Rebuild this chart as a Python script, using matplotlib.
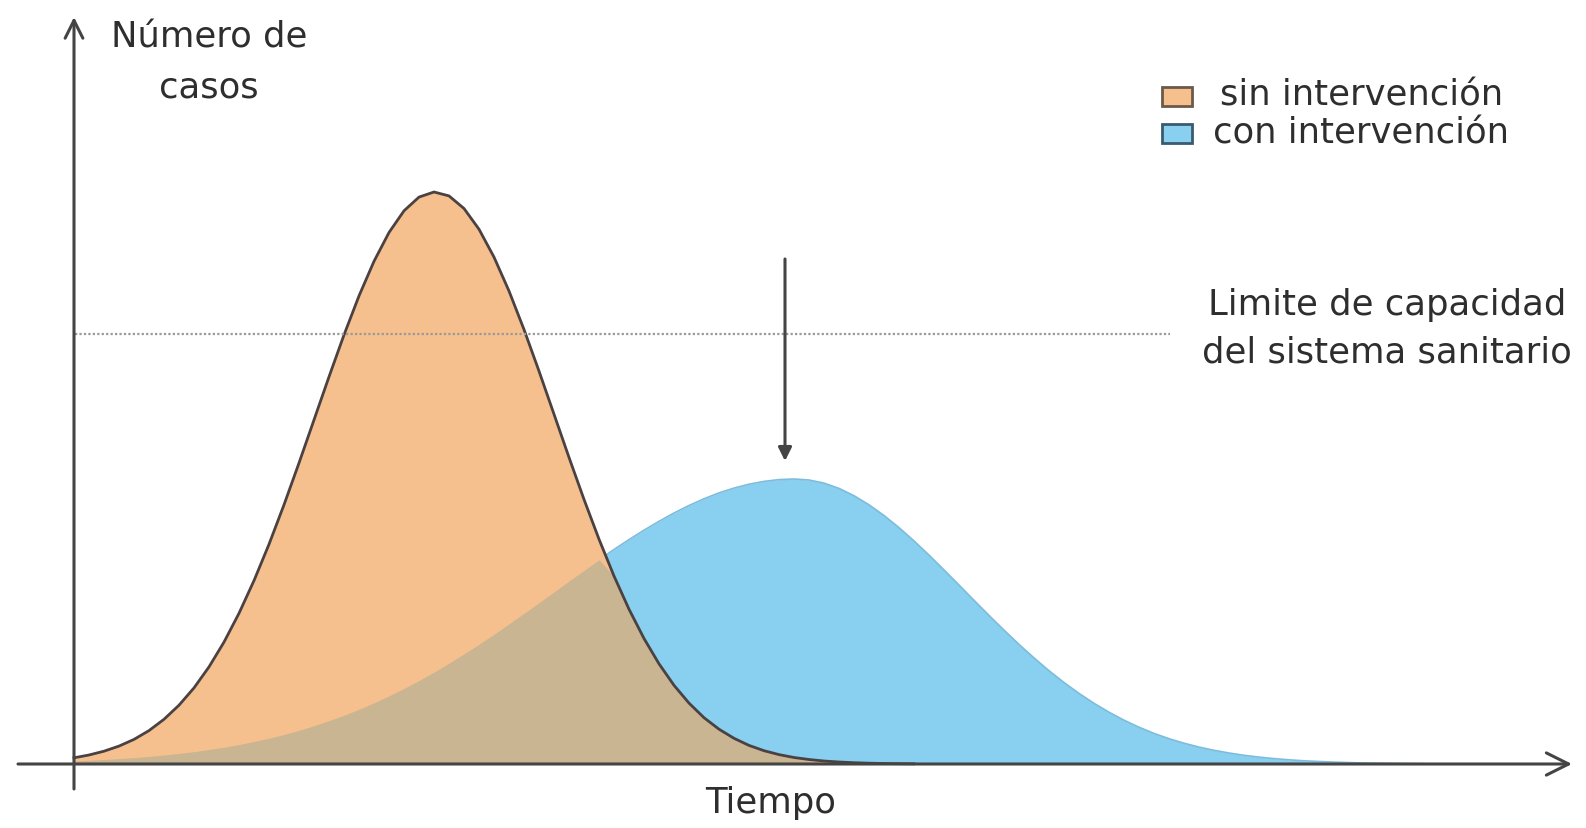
# -*- coding: utf-8 -*-
import matplotlib
matplotlib.use('Agg')
import matplotlib.pyplot as plt
from matplotlib.patches import Rectangle
import numpy as np

plt.rcParams['font.family'] = ['DejaVu Sans']

# tiempo (unidades arbitrarias) y numero de casos
tiempo = np.arange(0, 136, 1.5)
sin_interv = np.array([0.62, 0.90, 1.28, 1.79, 2.46, 3.34, 4.47, 5.88, 7.61, 9.71,
                       12.19, 15.07, 18.34, 21.97, 25.92, 30.10, 34.41, 38.72, 42.91, 46.81,
                       50.27, 53.15, 55.32, 56.69, 57.20, 56.81, 55.55, 53.48, 50.69, 47.30,
                       43.45, 39.29, 34.98, 30.66, 26.46, 22.48, 18.80, 15.48, 12.55, 10.02,
                       7.87, 6.09, 4.63, 3.48, 2.57, 1.86, 1.33, 0.94, 0.65, 0.45,
                       0.30, 0.20, 0.13, 0.08, 0.05, 0.03, 0.02] + [0.0] * 34)
con_interv = np.array([0.31, 0.38, 0.45, 0.54, 0.64, 0.76, 0.90, 1.06, 1.24, 1.45,
                       1.68, 1.95, 2.25, 2.58, 2.95, 3.37, 3.83, 4.33, 4.88, 5.47,
                       6.12, 6.81, 7.56, 8.35, 9.19, 10.08, 11.01, 11.98, 12.98, 14.01,
                       15.07, 16.13, 17.21, 18.29, 19.36, 20.42, 21.45, 22.44, 23.38, 24.27,
                       25.10, 25.85, 26.52, 27.11, 27.59, 27.98, 28.26, 28.44, 28.50, 28.40,
                       28.09, 27.56, 26.83, 25.92, 24.85, 23.64, 22.31, 20.89, 19.41, 17.90,
                       16.37, 14.86, 13.39, 11.96, 10.61, 9.33, 8.15, 7.06, 6.07, 5.18,
                       4.38, 3.68, 3.06, 2.53, 2.08, 1.69, 1.37, 1.10, 0.87, 0.69,
                       0.54, 0.42, 0.32, 0.25, 0.19, 0.14, 0.10, 0.08, 0.06, 0.04,
                       0.03])
capacidad = 43.0
t_capacidad = [0.1, 109.6]
pico_flecha = [71.1, 50.5, 30.3]

c_naranja = '#F6C08E'
c_azul = '#88CFF0'
c_mezcla = '#C9B592'
c_linea = '#444444'
c_texto = '#2e2e2e'
fs = 25.5

fig = plt.figure(figsize=(15.86, 8.29), dpi=100)
ax = fig.add_axes([0, 0, 1, 1])
ax.set_xlim(-7.4, 151.2)
ax.set_ylim(-6.4, 76.5)
ax.axis('off')

ax.fill_between(tiempo, 0, con_interv, color=c_azul, lw=0, zorder=1)
ax.plot(tiempo, con_interv, color='#7DBCDC', lw=1.2, zorder=1.5)
ax.fill_between(tiempo, 0, sin_interv, color=c_naranja, lw=0, zorder=2)
ax.fill_between(tiempo, 0, np.minimum(sin_interv, con_interv), color=c_mezcla, lw=0, zorder=3)
ax.plot(tiempo[:57], sin_interv[:57], color='#4a4242', lw=2, zorder=4)

ax.plot(t_capacidad, [capacidad, capacidad], color='#999999', lw=1.6,
        linestyle=(0, (1, 1)), zorder=5)

# ejes
ax.annotate('', xy=(149.8, 0), xytext=(-5.6, 0),
            arrowprops=dict(arrowstyle='->', lw=2.2, color=c_linea, mutation_scale=40,
                            shrinkA=0, shrinkB=0), zorder=6)
ax.annotate('', xy=(0, 74.7), xytext=(0, -2.5),
            arrowprops=dict(arrowstyle='->', lw=2.2, color=c_linea, mutation_scale=32,
                            shrinkA=0, shrinkB=0), zorder=6)
ax.annotate('', xy=(pico_flecha[0], pico_flecha[2]), xytext=(pico_flecha[0], pico_flecha[1]),
            arrowprops=dict(arrowstyle='-|>', lw=2.2, color=c_linea, mutation_scale=20,
                            shrinkA=0, shrinkB=0), zorder=6)

txt = dict(fontsize=fs, color=c_texto, va='baseline')
ax.text(13.5, 71.7, 'Número de', ha='center', **txt)
ax.text(13.5, 66.8, 'casos', ha='center', **txt)
ax.text(69.7, -4.8, 'Tiempo', ha='center', **txt)
ax.text(131.3, 45.0, 'Limite de capacidad', ha='center', **txt)
ax.text(131.3, 40.2, 'del sistema sanitario', ha='center', **txt)

# leyenda
ax.add_patch(Rectangle((108.8, 65.8), 3.0, 1.9, facecolor=c_naranja,
                       edgecolor='#6b5a4a', lw=2, zorder=6))
ax.add_patch(Rectangle((108.8, 62.1), 3.0, 1.9, facecolor=c_azul,
                       edgecolor='#3a5a70', lw=2, zorder=6))
ax.text(114.6, 66.0, 'sin intervención', ha='left', **txt)
ax.text(113.9, 62.2, 'con intervención', ha='left', **txt)

fig.savefig('out.png', dpi=100)
